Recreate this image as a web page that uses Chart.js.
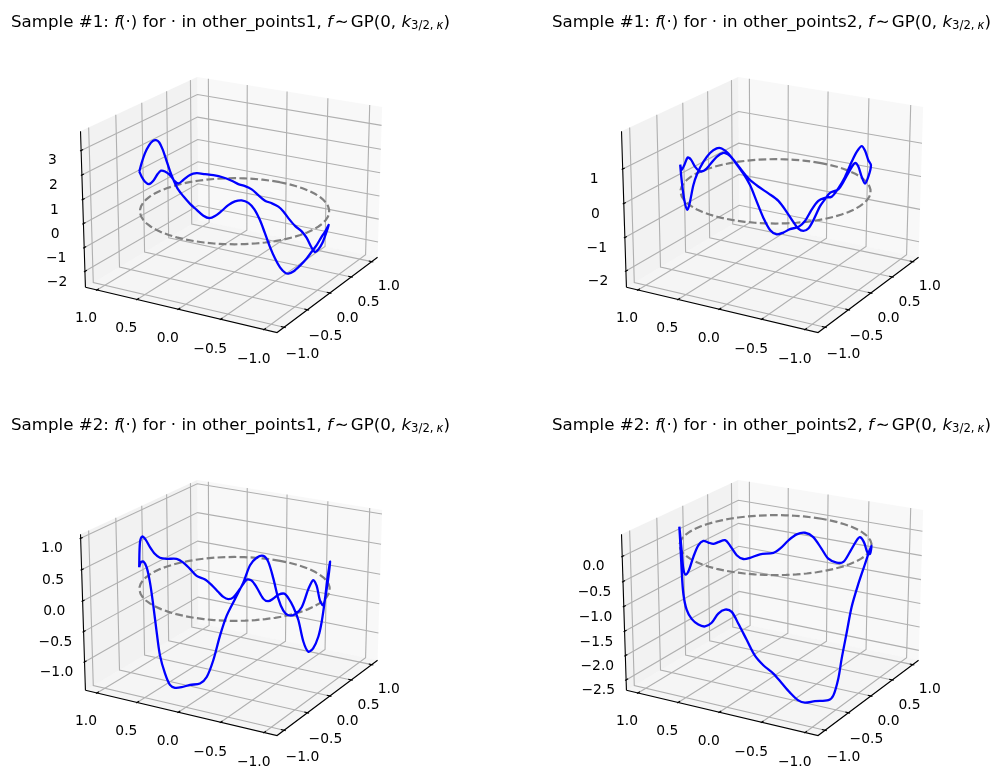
<!DOCTYPE html>
<html>
<head>
<meta charset="utf-8">
<style>
body { margin: 0; background: #fff; width: 1000px; height: 783px; position: relative; overflow: hidden; }
canvas { position: absolute; }
</style>
<script src="https://cdn.jsdelivr.net/npm/chart.js"></script>
</head>
<body>
<script>
// Angulos do circulo (graus)
const circleAngles = [0,6,12,18,24,30,36,42,48,54,60,66,72,78,84,90,96,102,108,114,120,126,132,138,144,150,156,162,168,174,180,186,192,198,204,210,216,222,228,234,240,246,252,258,264,270,276,282,288,294,300,306,312,318,324,330,336,342,348,354,360];
const xyTicks = [-1, -0.5, 0, 0.5, 1];
const zTicks1 = [-2, -1, 0, 1, 2, 3];
const zTicks2 = [-2, -1, 0, 1];
const zTicks3 = [-1, -0.5, 0, 0.5, 1];
const zTicks4 = [-2.5, -2, -1.5, -1, -0.5, 0];
const zLimits1 = [-2.547, 3.64];
const zLimits2 = [-2.396, 1.985];
const zLimits3 = [-1.422, 1.014];
const zLimits4 = [-2.652, 0.372];
const xyLimits = [-1.1, 1.1];

// Amostra 1, other_points1
const angles1 = [120,136.8,143.8,149.8,154.2,157.8,160.9,163.8,166.5,169.6,172.6,175.6,179.1,183.5,187.7,191.8,195.4,198.7,202.6,206.4,210.2,214.0,217.9,221.4,224.7,227.8,230.9,234.2,237.5,240.9,243.3,246.9,252.1,257.8,262.6,268.0,274.7,280.5,300,310.7,317.9,323.9,328.1,332.1,337.4,342.2,348.0,353.4,357.2,360.9,365.6,370.2,374.7,379.0,383.3,387.6,391.9,397.2,403.6,409.1,414.8,419.5,424.4,428.2,431.4,434.9,439.3,443.0,446.5,451.4,457.1,463.3,470.3,480];
const values1 = [1.60,2.33,2.87,3.30,3.55,3.65,3.61,3.38,3.04,2.61,2.25,1.95,1.73,1.48,1.28,1.08,1.01,1.11,1.33,1.57,1.72,1.76,1.65,1.38,0.93,0.37,-0.20,-0.71,-1.11,-1.37,-1.45,-1.42,-1.26,-1.07,-0.89,-0.73,-0.53,-0.46,-0.65,-1.28,-1.88,-2.31,-2.52,-2.42,-2.10,-1.90,-1.76,-1.50,-1.26,-1.09,-0.99,-0.92,-0.70,-0.47,-0.34,-0.26,-0.11,0.04,0.17,0.25,0.34,0.31,0.15,0.05,0.22,0.52,0.75,0.85,0.77,0.58,0.55,0.79,1.16,1.60];
// Amostra 1, other_points2
const angles2 = [120,133.5,140.4,146.3,150.7,155.2,159.6,164.1,168.9,174.0,178.7,182.0,185.2,189.3,194.3,200.1,205.9,211.6,216.4,220.2,223.2,226.2,229.2,232.3,236.5,239.7,243.1,249.2,253.1,258.7,263.5,267.2,271.6,276.9,283.5,300,310.9,318.0,323.2,329.3,334.6,340.8,346.5,351.8,356.9,361.7,366.3,370.8,375.2,380.7,385.0,389.3,393.6,397.9,402.2,406.5,410.9,416.6,421.2,426.1,430.0,435.5,441.6,447.9,452.7,457.5,461.9,467.3,473.7,480];
const values2 = [0.74,0.80,1.05,1.35,1.35,1.21,1.14,1.21,1.43,1.70,1.85,1.83,1.71,1.50,1.24,1.03,0.85,0.64,0.32,0.03,-0.17,-0.25,-0.20,0.02,0.39,0.56,0.71,0.75,0.92,1.19,1.33,1.18,0.83,0.55,0.65,0.72,0.70,0.88,0.94,0.68,0.31,-0.23,-0.65,-0.97,-1.05,-1.19,-1.50,-1.89,-2.10,-2.19,-2.31,-2.37,-2.23,-1.83,-1.30,-0.77,-0.39,0.01,0.30,0.50,0.54,0.46,0.26,-0.01,-0.30,-0.73,-0.91,-0.53,0.18,0.74];
// Amostra 2, other_points1
const angles3 = [120,134.2,140.6,146.1,150.3,153.8,157.0,159.9,164.3,168.4,172.3,177.2,183.0,189.4,193.6,197.6,201.6,205.5,210.2,215.0,218.8,222.6,226.5,229.5,232.7,236.0,239.3,242.8,247.6,252.8,258.3,263.0,266.8,271.2,276.3,282.3,300,310.1,314.6,319.7,324.3,330.3,335.6,340.6,345.3,349.6,353.6,356.7,361.0,364.5,368.0,371.3,375.8,379.1,382.3,386.5,390.8,394.0,397.2,400.4,404.7,409.1,414.8,419.4,424.2,429.3,437.6,443.8,448.9,454.8,460.8,466.8,473.2,480];
const values3 = [0.33,0.53,0.60,0.55,0.34,0.00,-0.41,-0.76,-1.02,-1.18,-1.20,-1.16,-1.09,-1.04,-0.92,-0.64,-0.24,0.08,0.34,0.60,0.86,0.97,0.99,0.89,0.62,0.29,0.09,0.00,-0.01,0.07,0.32,0.43,0.31,0.04,-0.08,0.13,0.42,0.04,-0.33,-0.76,-1.06,-1.31,-1.42,-1.28,-0.94,-0.74,-0.61,-0.55,-0.59,-0.67,-0.73,-0.70,-0.51,-0.40,-0.39,-0.55,-0.70,-0.73,-0.69,-0.60,-0.47,-0.36,-0.28,-0.14,-0.01,0.08,0.13,0.19,0.29,0.45,0.62,0.72,0.68,0.33];
// Amostra 2, other_points2
const angles4 = [120.5,130.6,133.7,137.1,143.2,150.3,157.8,164.0,169.6,174.7,179.5,183.9,188.0,193.1,198.0,202.9,208.7,213.5,218.4,223.4,227.4,233.7,242.8,246.4,250.1,252.5,256.5,260.8,267.5,276.2,282.3,300,306.6,313.7,319.9,325.7,329.6,336.5,342.5,348.2,354.7,359.7,365.6,371.2,376.6,381.9,387.2,391.4,399.9,406.4,410.8,415.3,420.0,423.5,428.6,432.6,436.8,441.3,446.3,452.1,458.1,463.6,468.1,471.6,480];
const values4 = [0.34,0.11,-0.39,-0.82,-1.08,-1.19,-1.23,-1.21,-1.09,-0.87,-0.76,-0.78,-0.99,-1.29,-1.59,-1.77,-1.93,-2.12,-2.32,-2.49,-2.55,-2.55,-2.59,-2.52,-2.20,-1.83,-1.34,-0.86,-0.47,-0.16,-0.02,-0.04,-0.28,-0.32,-0.18,-0.13,-0.23,-0.53,-0.79,-0.85,-0.81,-0.63,-0.41,-0.34,-0.39,-0.53,-0.71,-0.80,-0.82,-0.88,-0.89,-0.79,-0.56,-0.43,-0.44,-0.45,-0.39,-0.32,-0.37,-0.56,-0.77,-0.81,-0.64,-0.23,0.34];

const ELEV = 20 * Math.PI / 180, AZIM = -150 * Math.PI / 180, DIST = 10;
const AXES = { left: 68.2, top: 39, size: 324 };

// Projecao igual a do mplot3d
function makeProjection(zLim) {
    const k = 1.8294640721620434 * 25 / 24 / Math.sqrt(41);
    const box = [4 * k, 4 * k, 3 * k];
    const w = [Math.cos(ELEV) * Math.cos(AZIM), Math.cos(ELEV) * Math.sin(AZIM), Math.sin(ELEV)];
    const u = [-Math.sin(AZIM), Math.cos(AZIM), 0];
    const v = [w[1] * u[2] - w[2] * u[1], w[2] * u[0] - w[0] * u[2], w[0] * u[1] - w[1] * u[0]];
    const lims = [xyLimits, xyLimits, zLim];
    return function (x, y, z) {
        const p = [x, y, z].map((val, i) => (val - lims[i][0]) / (lims[i][1] - lims[i][0]) * box[i] - box[i] / 2 - DIST * w[i]);
        const dot = a => a[0] * p[0] + a[1] * p[1] + a[2] * p[2];
        const d = -dot(w);
        return { x: dot(u) / d, y: dot(v) / d };
    };
}

function lineSet(points, color, width, extra) {
    return Object.assign({ data: points, showLine: true, borderColor: color, borderWidth: width, pointRadius: 0, tension: 0, clip: false, fill: false }, extra || {});
}

// Plugin que escreve o titulo e os rotulos
const textPlugin = {
    id: 'textPlugin',
    afterDraw(chart, args, opts) {
        const ctx = chart.ctx, sx = chart.scales.x, sy = chart.scales.y;
        ctx.save();
        ctx.fillStyle = '#000';
        ctx.textAlign = 'center';
        ctx.textBaseline = 'middle';
        ctx.font = '13.89px "DejaVu Sans"';
        opts.labels.forEach(l => {
            ctx.fillText(l.text, sx.getPixelForValue(l.x), sy.getPixelForValue(l.y) + 8);
        });
        ctx.textAlign = 'left';
        ctx.textBaseline = 'alphabetic';
        let x = opts.titleX;
        opts.title.forEach(r => {
            const size = r.sub ? 11.67 : 16.67;
            ctx.font = (r.it ? 'italic ' : '') + size + 'px "DejaVu Sans"';
            ctx.fillText(r.t, x, opts.titleY + (r.sub ? 2.5 : 0));
            x += ctx.measureText(r.t).width + (r.gap || 0);
        });
        ctx.restore();
    }
};

function titleRuns(sample, set) {
    return [
        { t: 'Sample #' + sample + ': ' }, { t: 'f', it: 1, gap: -1 }, { t: '(·)' },
        { t: ' for · in other_points' + set + ', ' }, { t: 'f', it: 1, gap: 2 }, { t: '∼', gap: 2 },
        { t: 'GP(0, ' }, { t: 'k', it: 1 }, { t: '3/2,', sub: 1, gap: 3 }, { t: 'κ', it: 1, sub: 1 }, { t: ')' }
    ];
}

function drawPanel(left, top, width, height, sample, set, zLim, zTicks, anglesDeg, values) {
    const canvas = document.createElement('canvas');
    canvas.width = width; canvas.height = height;
    canvas.style.left = left + 'px'; canvas.style.top = top + 'px';
    canvas.style.width = width + 'px'; canvas.style.height = height + 'px';
    document.body.appendChild(canvas);

    const proj = makeProjection(zLim);
    const rx = xyLimits[1] - xyLimits[0], rz = zLim[1] - zLim[0];
    const a0 = xyLimits[0] - rx / 48, a1 = xyLimits[1] + rx / 48;
    const z0 = zLim[0] - rz / 48, z1 = zLim[1] + rz / 48;
    const sets = [];

    // paineis
    sets.push(lineSet([proj(a1, a0, z0), proj(a1, a1, z0), proj(a1, a1, z1), proj(a1, a0, z1), proj(a1, a0, z0)], 'rgba(0,0,0,0)', 0, { fill: 'shape', backgroundColor: 'rgba(242,242,242,0.5)' }));
    sets.push(lineSet([proj(a0, a1, z0), proj(a1, a1, z0), proj(a1, a1, z1), proj(a0, a1, z1), proj(a0, a1, z0)], 'rgba(0,0,0,0)', 0, { fill: 'shape', backgroundColor: 'rgba(230,230,230,0.5)' }));
    sets.push(lineSet([proj(a0, a0, z0), proj(a1, a0, z0), proj(a1, a1, z0), proj(a0, a1, z0), proj(a0, a0, z0)], 'rgba(0,0,0,0)', 0, { fill: 'shape', backgroundColor: 'rgba(236,236,236,0.5)' }));

    // grade
    const grid = '#b0b0b0', gw = 1.11;
    xyTicks.forEach(t => {
        sets.push(lineSet([proj(t, a0, z0), proj(t, a1, z0), proj(t, a1, z1)], grid, gw));
        sets.push(lineSet([proj(a0, t, z0), proj(a1, t, z0), proj(a1, t, z1)], grid, gw));
    });
    zTicks.forEach(t => {
        sets.push(lineSet([proj(a0, a1, t), proj(a1, a1, t), proj(a1, a0, t)], grid, gw));
    });

    // eixos e marcas
    const labels = [];
    sets.push(lineSet([proj(a0, a1, z0), proj(a0, a0, z0), proj(a1, a0, z0)], '#000', gw));
    sets.push(lineSet([proj(a0, a1, z0), proj(a0, a1, z1)], '#000', gw));
    const dxy = rx / 12, dz = rz / 12, off = 1.136;
    const fmt = v => (Number.isInteger(v) && zTicks.every(Number.isInteger) ? String(v) : v.toFixed(1)).replace('-', '−');
    const fmtXY = v => v.toFixed(1).replace('-', '−');
    xyTicks.forEach(t => {
        sets.push(lineSet([proj(t, a0 - 0.1 * dxy, z0), proj(t, a0 + 0.2 * dxy, z0)], '#000', gw));
        sets.push(lineSet([proj(a0 - 0.1 * dxy, t, z0), proj(a0 + 0.2 * dxy, t, z0)], '#000', gw));
        const px = proj(t, a0 - off * dxy, z0 - off * dz);
        labels.push({ text: fmtXY(t), x: px.x, y: px.y });
        const py = proj(a0 - off * dxy, t, z0 - off * dz);
        labels.push({ text: fmtXY(t), x: py.x, y: py.y });
    });
    zTicks.forEach(t => {
        sets.push(lineSet([proj(a0 - 0.1 * dxy, a1, t), proj(a0 + 0.2 * dxy, a1, t)], '#000', gw));
        const pz = proj(a0 - off * dxy, a1 + off * dxy, t);
        labels.push({ text: fmt(t), x: pz.x, y: pz.y });
    });

    // circulo tracejado em z = 0
    const rad = d => d * Math.PI / 180;
    sets.push(lineSet(circleAngles.map(d => proj(Math.cos(rad(d)), Math.sin(rad(d)), 0)), '#808080', 2.2, { borderDash: [7.7, 3.3] }));

    // curva azul
    sets.push(lineSet(values.map((z, i) => proj(Math.cos(rad(anglesDeg[i])), Math.sin(rad(anglesDeg[i])), z)), '#0000ff', 2.3, { tension: 0.3 }));

    // o Chart.js desenha o primeiro dataset por cima
    sets.reverse();

    new Chart(canvas.getContext('2d'), {
        type: 'scatter',
        data: { datasets: sets },
        options: {
            responsive: false,
            animation: false,
            layout: { padding: { left: AXES.left, top: AXES.top, right: width - AXES.left - AXES.size, bottom: height - AXES.top - AXES.size } },
            plugins: {
                legend: { display: false },
                tooltip: { enabled: false },
                textPlugin: { labels: labels, title: titleRuns(sample, set), titleX: 11, titleY: 26.5 }
            },
            scales: {
                x: { type: 'linear', display: false, min: -0.095, max: 0.09 },
                y: { type: 'linear', display: false, min: -0.095, max: 0.09 }
            }
        },
        plugins: [textPlugin]
    });
}

drawPanel(0, 0, 500, 403, 1, 1, zLimits1, zTicks1, angles1, values1);
drawPanel(541, 0, 459, 403, 1, 2, zLimits2, zTicks2, angles2, values2);
drawPanel(0, 403, 500, 380, 2, 1, zLimits3, zTicks3, angles3, values3);
drawPanel(541, 403, 459, 380, 2, 2, zLimits4, zTicks4, angles4, values4);
</script>
</body>
</html>
